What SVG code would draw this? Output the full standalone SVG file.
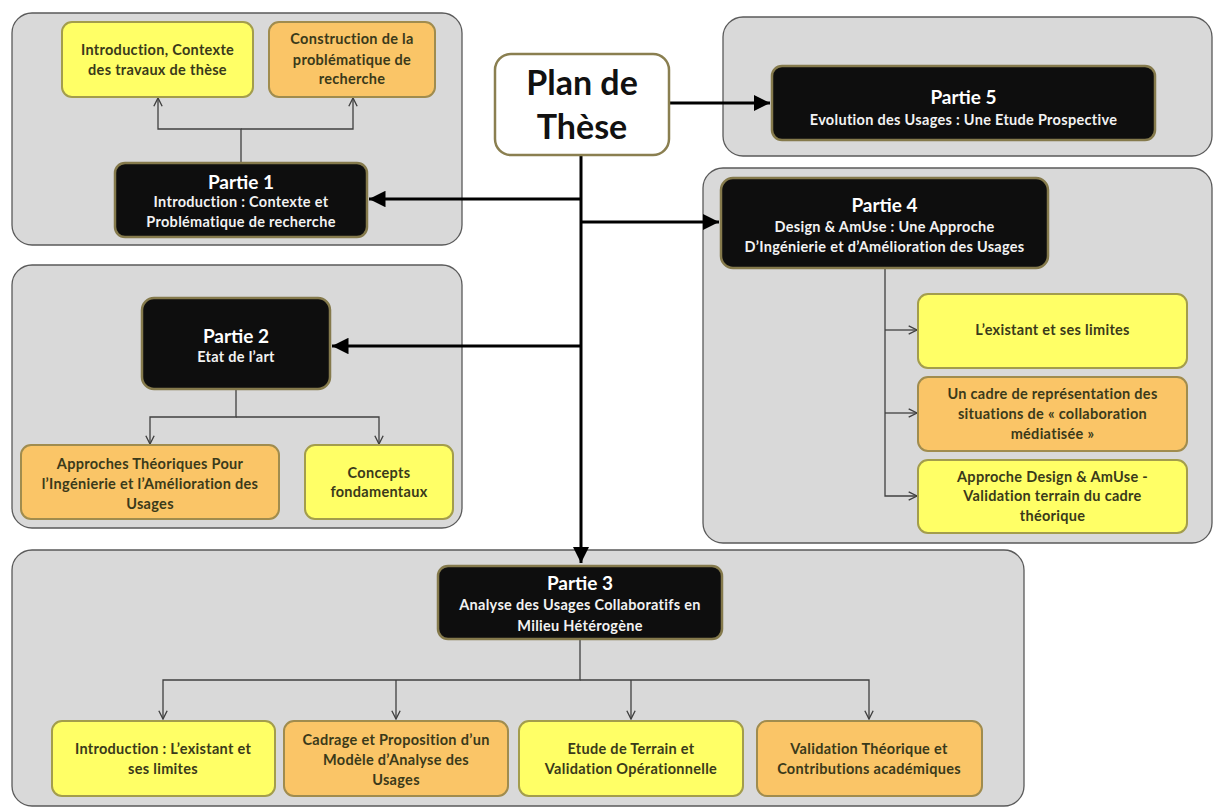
<svg xmlns="http://www.w3.org/2000/svg" width="1213" height="809" viewBox="0 0 1213 809">
<defs>
<style>
.panel{fill:#d9d9d9;stroke:#5a5a5a;stroke-width:1.3}
.blk{fill:#0e0e0e;stroke:#857a4c;stroke-width:2.5}
.yel{fill:#ffff66;stroke:#a39d4c;stroke-width:2}
.org{fill:#fac567;stroke:#a08c4e;stroke-width:2}
.plan{fill:#ffffff;stroke:#8a7f50;stroke-width:2.5}
text{font-family:Lato,"Open Sans","Liberation Sans",sans-serif;text-anchor:middle;font-weight:bold}
.t1{fill:#ffffff;font-size:19px}
.t2{fill:#f2f2f2;font-size:14.5px;letter-spacing:0.3px}
.c{fill:#3a3a1a;font-size:14.5px;letter-spacing:0.3px}
.big{fill:#111;font-size:34px}
.thick{stroke:#000;stroke-width:3;fill:none}
.thin{stroke:#404040;stroke-width:1.3;fill:none}
</style>
<marker id="ah" viewBox="0 0 10 10" refX="10" refY="5" markerWidth="5.5" markerHeight="5.5" markerUnits="strokeWidth" orient="auto">
<path d="M0,0 L10,5 L0,10 z" fill="#000"/>
</marker>
<marker id="av" viewBox="0 0 10 10" refX="9" refY="5" markerWidth="8" markerHeight="8" markerUnits="strokeWidth" orient="auto">
<path d="M1,1 L9,5 L1,9" fill="none" stroke="#404040" stroke-width="1.3"/>
</marker>
</defs>

<g id="panels">
<rect class="panel" x="12" y="13" width="450" height="232" rx="20"/>
<rect class="panel" x="12" y="265" width="450" height="263" rx="20"/>
<rect class="panel" x="12" y="550" width="1012" height="256" rx="20"/>
<rect class="panel" x="723" y="17" width="489" height="139" rx="20"/>
<rect class="panel" x="703" y="168" width="509" height="375" rx="20"/>
</g>

<g id="connectors">
<path class="thick" d="M669,103 H770" marker-end="url(#ah)"/>
<path class="thick" d="M581,155 V563" marker-end="url(#ah)"/>
<path class="thick" d="M581,199 H369" marker-end="url(#ah)"/>
<path class="thick" d="M581,222 H719" marker-end="url(#ah)"/>
<path class="thick" d="M581,346 H332" marker-end="url(#ah)"/>
<path class="thin" d="M241,163 V129 H158 V98" marker-end="url(#av)"/>
<path class="thin" d="M241,129 H353 V98" marker-end="url(#av)"/>
<path class="thin" d="M236,389 V417 H150 V444" marker-end="url(#av)"/>
<path class="thin" d="M236,417 H379 V444" marker-end="url(#av)"/>
<path class="thin" d="M885,268 V496 H917" marker-end="url(#av)"/>
<path class="thin" d="M885,330 H917" marker-end="url(#av)"/>
<path class="thin" d="M885,413 H917" marker-end="url(#av)"/>
<path class="thin" d="M580,639 V680 H163 V719" marker-end="url(#av)"/>
<path class="thin" d="M396,680 V719" marker-end="url(#av)"/>
<path class="thin" d="M580,680 H869 V719" marker-end="url(#av)"/>
<path class="thin" d="M631,680 V719" marker-end="url(#av)"/>
</g>

<g id="plan">
<rect class="plan" x="495" y="54" width="174" height="101" rx="16"/>
<text class="big" x="582" y="95">Plan de</text>
<text class="big" x="582" y="139">Thèse</text>
</g>

<g id="p1-intro">
<rect class="yel" x="62" y="22" width="191" height="75" rx="10"/>
<text class="c" x="157.5" y="55">Introduction, Contexte</text>
<text class="c" x="157.5" y="75">des travaux de thèse</text>
</g>
<g id="p1-construction">
<rect class="org" x="269" y="22" width="166" height="75" rx="10"/>
<text class="c" x="352" y="44">Construction de la</text>
<text class="c" x="352" y="65">problématique de</text>
<text class="c" x="352" y="84">recherche</text>
</g>
<g id="partie1">
<rect class="blk" x="115" y="163" width="252" height="74" rx="10"/>
<text class="t1" x="241" y="189">Partie 1</text>
<text class="t2" x="241" y="207">Introduction : Contexte et</text>
<text class="t2" x="241" y="227">Problématique de recherche</text>
</g>

<g id="partie5">
<rect class="blk" x="772" y="66" width="383" height="74" rx="10"/>
<text class="t1" x="963.5" y="104">Partie 5</text>
<text class="t2" x="963.5" y="125">Evolution des Usages : Une Etude Prospective</text>
</g>

<g id="partie4">
<rect class="blk" x="721" y="178" width="327" height="90" rx="12"/>
<text class="t1" x="884.5" y="212">Partie 4</text>
<text class="t2" x="884.5" y="232">Design &amp; AmUse : Une Approche</text>
<text class="t2" x="884.5" y="252">D’Ingénierie et d’Amélioration des Usages</text>
</g>
<g id="p4-existant">
<rect class="yel" x="918" y="294" width="269" height="74" rx="10"/>
<text class="c" x="1052.5" y="335">L’existant et ses limites</text>
</g>
<g id="p4-cadre">
<rect class="org" x="918" y="377" width="269" height="74" rx="10"/>
<text class="c" x="1052.5" y="399">Un cadre de représentation des</text>
<text class="c" x="1052.5" y="419">situations de « collaboration</text>
<text class="c" x="1052.5" y="439">médiatisée »</text>
</g>
<g id="p4-approche">
<rect class="yel" x="918" y="460" width="269" height="73" rx="10"/>
<text class="c" x="1052.5" y="482">Approche Design &amp; AmUse -</text>
<text class="c" x="1052.5" y="501">Validation terrain du cadre</text>
<text class="c" x="1052.5" y="521">théorique</text>
</g>

<g id="partie2">
<rect class="blk" x="142" y="298" width="188" height="91" rx="12"/>
<text class="t1" x="236" y="343">Partie 2</text>
<text class="t2" x="236" y="362">Etat de l’art</text>
</g>
<g id="p2-approches">
<rect class="org" x="21" y="445" width="258" height="74" rx="10"/>
<text class="c" x="150" y="469">Approches Théoriques Pour</text>
<text class="c" x="150" y="489">l’Ingénierie et l’Amélioration des</text>
<text class="c" x="150" y="509">Usages</text>
</g>
<g id="p2-concepts">
<rect class="yel" x="305" y="445" width="148" height="74" rx="10"/>
<text class="c" x="379" y="478">Concepts</text>
<text class="c" x="379" y="497">fondamentaux</text>
</g>

<g id="partie3">
<rect class="blk" x="438" y="566" width="284" height="73" rx="10"/>
<text class="t1" x="580" y="590">Partie 3</text>
<text class="t2" x="580" y="610">Analyse des Usages Collaboratifs en</text>
<text class="t2" x="580" y="631">Milieu Hétérogène</text>
</g>
<g id="p3-intro">
<rect class="yel" x="52" y="721" width="223" height="75" rx="10"/>
<text class="c" x="163" y="754">Introduction : L’existant et</text>
<text class="c" x="163" y="774">ses limites</text>
</g>
<g id="p3-cadrage">
<rect class="org" x="284" y="721" width="224" height="75" rx="10"/>
<text class="c" x="396" y="745">Cadrage et Proposition d’un</text>
<text class="c" x="396" y="765">Modèle d’Analyse des</text>
<text class="c" x="396" y="785">Usages</text>
</g>
<g id="p3-etude">
<rect class="yel" x="519" y="721" width="224" height="75" rx="10"/>
<text class="c" x="631" y="754">Etude de Terrain et</text>
<text class="c" x="631" y="774">Validation Opérationnelle</text>
</g>
<g id="p3-validation">
<rect class="org" x="757" y="721" width="225" height="75" rx="10"/>
<text class="c" x="869" y="754">Validation Théorique et</text>
<text class="c" x="869" y="774">Contributions académiques</text>
</g>
</svg>
